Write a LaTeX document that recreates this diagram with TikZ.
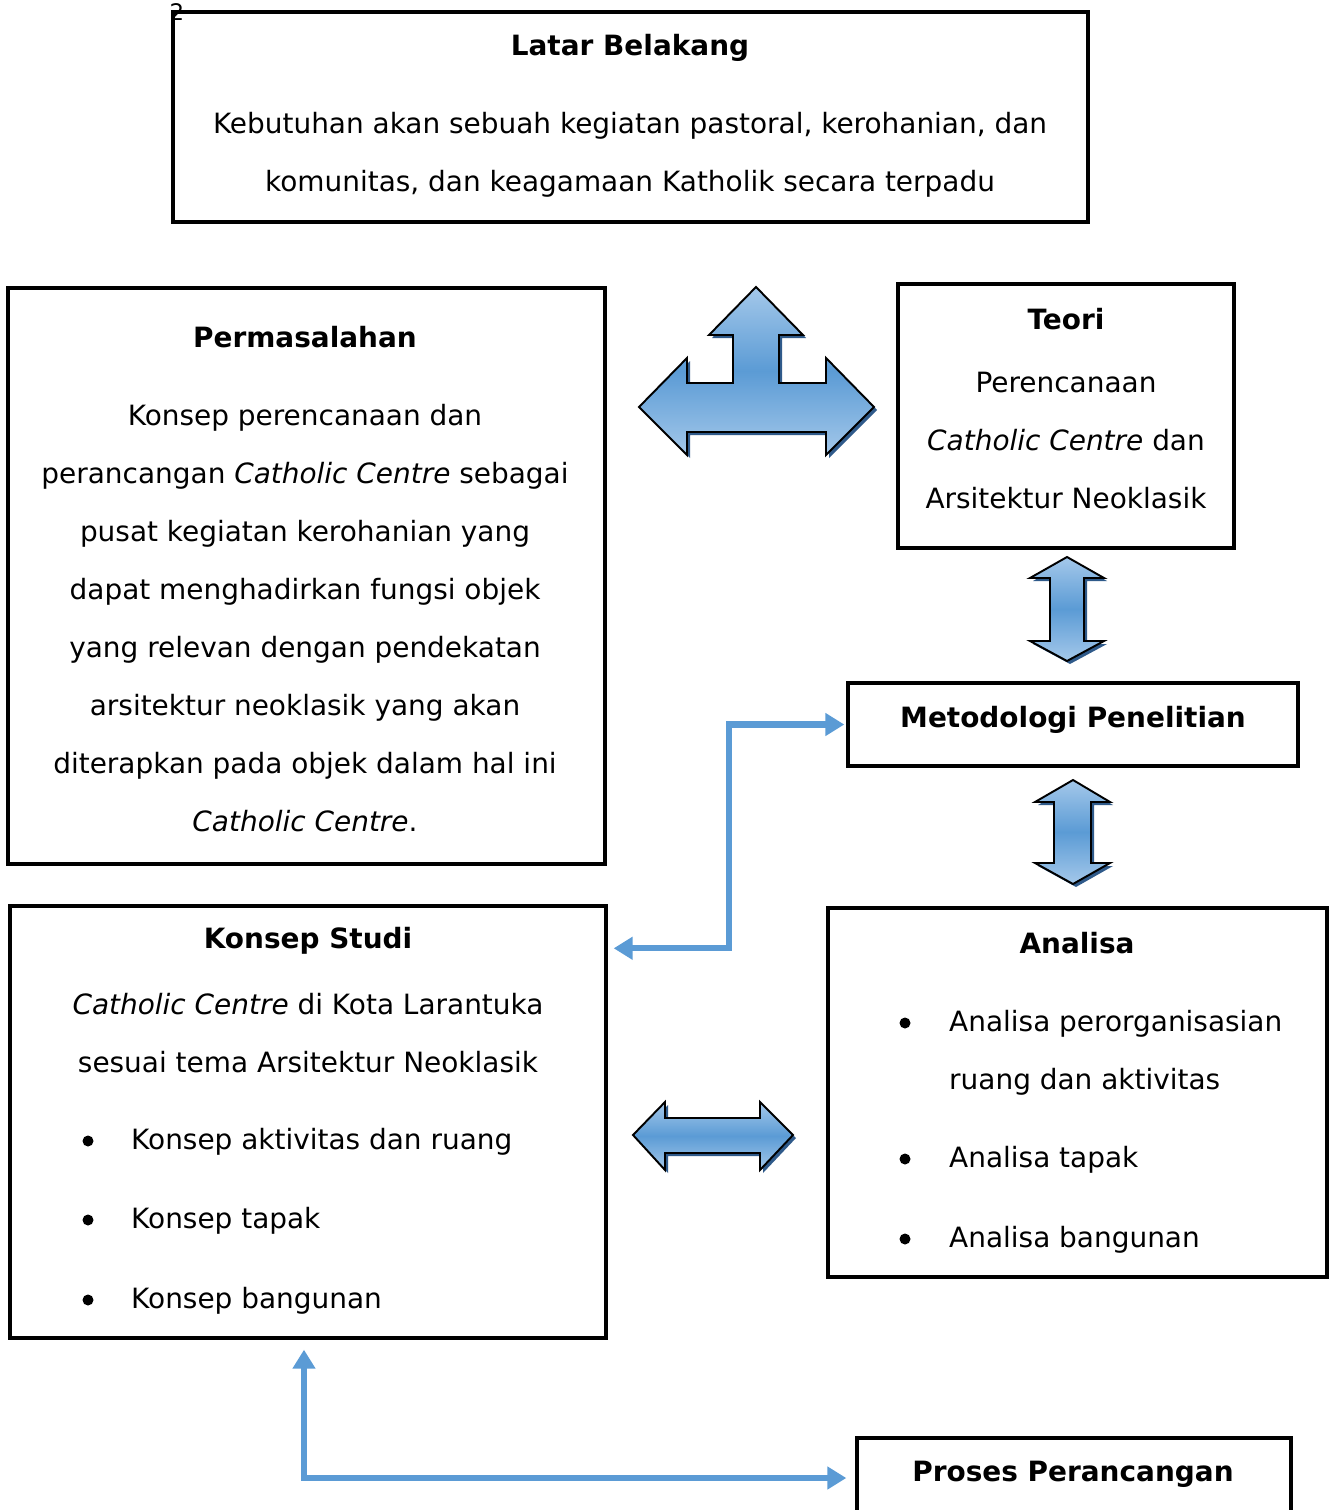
\documentclass[tikz,border=0pt]{standalone}
\usepackage{fontspec}
\setmainfont{DejaVu Sans}
\usetikzlibrary{calc,arrows.meta}

\definecolor{linkblue}{HTML}{5B9BD5}
\definecolor{lightblue}{HTML}{A4C8EA}
\definecolor{shadowblue}{HTML}{2F5A8A}

\tikzset{
  box/.style={draw, line width=2pt, inner sep=0pt},
  title/.style={font=\fontsize{15.9}{19}\selectfont\bfseries},
  body/.style={align=center, font=\fontsize{15.9}{33}\selectfont},
  item/.style={align=left, anchor=west, font=\fontsize{15.9}{33}\selectfont},
  dot/.style={circle, fill=black, inner sep=0pt, minimum size=0.22cm},
  link/.style={draw=linkblue, line width=3.6pt, {Triangle[length=0.38cm,width=0.44cm]}-{Triangle[length=0.38cm,width=0.44cm]}},
  blockarrow/.style={preaction={fill=shadowblue, transform canvas={shift={(3,3)}}},
    draw=black, line width=1.1pt, line join=miter,
    top color=lightblue, bottom color=lightblue, middle color=linkblue}
}

\begin{document}
\begin{tikzpicture}[x=0.02cm, y=-0.02cm]

% Page size in pixels
\useasboundingbox (0,0) rectangle (1330,1510);

% Boxes
\node[box, minimum width=18.30cm, minimum height=4.20cm] (latar) at (630.5,117) {};
\node[box, minimum width=11.94cm, minimum height=11.52cm] (masalah) at (306.5,576) {};
\node[box, minimum width=6.72cm, minimum height=5.28cm] (teori) at (1066,416) {};
\node[box, minimum width=9.00cm, minimum height=1.66cm] (metode) at (1073,724.5) {};
\node[box, minimum width=11.92cm, minimum height=8.64cm] (konsep) at (308,1122) {};
\node[box, minimum width=9.98cm, minimum height=7.38cm] (analisa) at (1077.5,1092.5) {};
\node[box, minimum width=8.68cm, minimum height=2.20cm] (proses) at (1074,1493) {};

% Page number
\node[font=\fontsize{13}{14}\selectfont] (hal) at (177,12) {2};

% Latar Belakang
\node[title] (latarT) at (630,48) {Latar Belakang};
\node[body] (latarB) at (630,155) {Kebutuhan akan sebuah kegiatan pastoral, kerohanian, dan\\
  komunitas, dan keagamaan Katholik secara terpadu};

% Permasalahan
\node[title] (masalahT) at (305,337) {Permasalahan};
\node[body] (masalahB) at (305,618.5) {Konsep perencanaan dan\\
  perancangan \textit{Catholic Centre} sebagai\\
  pusat kegiatan kerohanian yang\\
  dapat menghadirkan fungsi objek\\
  yang relevan dengan pendekatan\\
  arsitektur neoklasik yang akan\\
  diterapkan pada objek dalam hal ini\\
  \textit{Catholic Centre}.};

% Teori
\node[title] (teoriT) at (1066,319) {Teori};
\node[body] (teoriB) at (1066,440.5) {Perencanaan\\
  \textit{Catholic Centre} dan\\
  Arsitektur Neoklasik};

% Metodologi
\node[title] (metodeT) at (1073,720) {Metodologi Penelitian};

% Konsep Studi
\node[title] (konsepT) at (308,941) {Konsep Studi};
\node[body] (konsepB) at (308,1033) {\textit{Catholic Centre} di Kota Larantuka\\
  sesuai tema Arsitektur Neoklasik};
\node[dot] (kd1) at (88,1141) {};
\node[dot] (kd2) at (88,1220) {};
\node[dot] (kd3) at (88,1300) {};
\node[item] (k1) at (125,1142) {Konsep aktivitas dan ruang};
\node[item] (k2) at (125,1221) {Konsep tapak};
\node[item] (k3) at (125,1301) {Konsep bangunan};

% Analisa
\node[title] (analisaT) at (1077,943) {Analisa};
\node[dot] (ad1) at (905,1023) {};
\node[dot] (ad2) at (905,1159) {};
\node[dot] (ad3) at (905,1239) {};
\node[item] (a1) at (943,1053) {Analisa perorganisasian\\ruang dan aktivitas};
\node[item] (a2) at (943,1160) {Analisa tapak};
\node[item] (a3) at (943,1240) {Analisa bangunan};

% Proses Perancangan
\node[title] (prosesT) at (1073,1474) {Proses Perancangan};

% Three-way block arrow
\path[blockarrow] (756,287) -- (803,335) -- (779,335) -- (779,383) -- (826,383)
  -- (826,358) -- (874,407) -- (826,455) -- (826,432) -- (687,432) -- (687,455)
  -- (639,407) -- (687,358) -- (687,383) -- (733,383) -- (733,335) -- (709,335) -- cycle;

% Teori <-> Metodologi
\path[blockarrow] (1067,557) -- (1104,578) -- (1084,578) -- (1084,641) -- (1104,641)
  -- (1067,661) -- (1030,641) -- (1050,641) -- (1050,578) -- (1030,578) -- cycle;

% Metodologi <-> Analisa
\path[blockarrow] (1073,780) -- (1110,802) -- (1091,802) -- (1091,863) -- (1110,863)
  -- (1073,884) -- (1035,863) -- (1054,863) -- (1054,802) -- (1035,802) -- cycle;

% Konsep Studi <-> Analisa
\path[blockarrow] (633,1135) -- (665,1102) -- (665,1118) -- (760,1118) -- (760,1102)
  -- (793,1135) -- (760,1170) -- (760,1153) -- (665,1153) -- (665,1170) -- cycle;

% Thin connectors
\coordinate (kA) at ($(konsep.north east)+(6,44)$);
\coordinate (mA) at ($(metode.west)+(-2,0)$);
\draw[link] (kA) -| ($(mA)+(-115,0)$) -- (mA);

\coordinate (kB) at ($(konsep.south)+(-4,10)$);
\coordinate (pB) at ($(proses.west)+(-9,-15)$);
\draw[link] (kB) |- (pB);

\end{tikzpicture}
\end{document}
